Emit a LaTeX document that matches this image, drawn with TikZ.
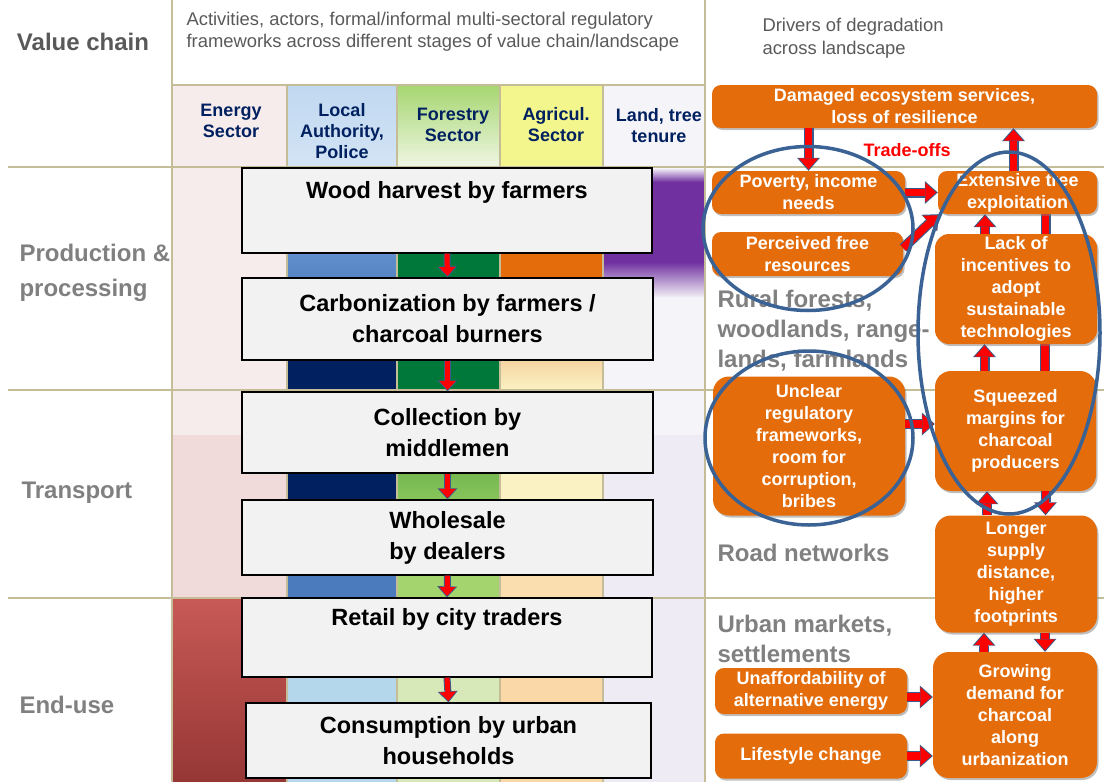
\documentclass[tikz,border=0pt]{standalone}
\usepackage{fontspec}
\setmainfont{Liberation Sans}
\usetikzlibrary{arrows.meta,shadows,backgrounds}

\definecolor{rulecol}{RGB}{196,189,151}
\definecolor{navytext}{RGB}{0,32,96}
\definecolor{greytext}{RGB}{128,128,128}
\definecolor{darkgreytext}{RGB}{89,89,89}
\definecolor{burnt}{RGB}{228,108,10}
\definecolor{rimblue}{RGB}{59,98,148}
\definecolor{tipblue}{RGB}{56,93,138}
\definecolor{boxgrey}{RGB}{242,242,242}
\definecolor{energypale}{RGB}{247,236,236}
\definecolor{energypink}{RGB}{241,218,218}
\definecolor{energytop}{RGB}{200,90,86}
\definecolor{energybot}{RGB}{150,55,53}
\definecolor{policehead}{RGB}{192,216,240}
\definecolor{policepale}{RGB}{181,215,235}
\definecolor{policemid}{RGB}{79,129,199}
\definecolor{policenavy}{RGB}{0,32,96}
\definecolor{foresthead}{RGB}{166,214,112}
\definecolor{forestdark}{RGB}{0,120,58}
\definecolor{forestmid}{RGB}{86,166,60}
\definecolor{forestlight}{RGB}{163,212,109}
\definecolor{forestpale}{RGB}{215,233,185}
\definecolor{agriyellow}{RGB}{243,246,140}
\definecolor{agricream}{RGB}{251,242,195}
\definecolor{agripeach}{RGB}{250,222,176}
\definecolor{agritan}{RGB}{250,216,168}
\definecolor{tenurepale}{RGB}{245,244,249}
\definecolor{tenurelilac}{RGB}{238,235,244}
\definecolor{tenurepurple}{RGB}{112,48,160}

\newcommand\chainfont{\bfseries\fontsize{23.5}{31}\selectfont}
\newcommand\driverfont{\bfseries\fontsize{18}{22}\selectfont}
\newcommand\stagefont{\bfseries\fontsize{24}{35}\selectfont}
\newcommand\landfont{\bfseries\fontsize{24}{30}\selectfont}
\newcommand\sectorfont{\bfseries\fontsize{18}{21}\selectfont}
\newcommand\notefont{\fontsize{18.4}{22.5}\selectfont}

\tikzset{
  chainbox/.style={draw=black, line width=1.3pt, fill=boxgrey, align=center,
    inner sep=0pt, font=\chainfont},
  driverbox/.style={fill=burnt, rounded corners=9pt, align=center, inner sep=0pt,
    text=white, font=\driverfont,
    drop shadow={fill=black!50, opacity=0.5, shadow xshift=1.5pt, shadow yshift=-2pt}},
  chainarrow/.style={draw=tipblue, line width=7pt,
    -{Triangle[length=11pt,width=20pt,line width=0pt]},
    postaction={draw=red, line width=5pt, shorten >=1.4pt,
      -{Triangle[length=9pt,width=16.5pt,line width=0pt]}}},
  flowarrow/.style={draw=tipblue, line width=10pt,
    -{Triangle[length=13pt,width=23pt,line width=0pt]},
    postaction={draw=red, line width=7.6pt, shorten >=1.5pt,
      -{Triangle[length=11pt,width=19.5pt,line width=0pt]}}},
  rim/.style={draw=rimblue, line width=3.5pt},
  stagelabel/.style={anchor=west, align=left, text=greytext, font=\stagefont},
  landlabel/.style={anchor=west, align=left, text=greytext, font=\landfont},
  sectorhead/.style={align=center, text=navytext, font=\sectorfont},
}

\begin{document}
\begin{tikzpicture}[x=1pt, y=-1pt]
  \useasboundingbox (0,0) rectangle (1104,782);

  % sector columns
  \fill[energypale] (172,85) rectangle (287,435);
  \fill[energypink] (172,435) rectangle (287,598);
  \shade[top color=energytop, bottom color=energybot] (172,598) rectangle (287,782);
  \shade[top color=policehead, bottom color=policehead!70] (287,85) rectangle (397,167);
  \fill[policehead!80] (287,167) rectangle (397,253);
  \shade[top color=policemid!90!white, bottom color=policemid!90!black] (287,253) rectangle (397,321);
  \fill[policenavy] (287,321) rectangle (397,500);
  \fill[policemid!95!black] (287,500) rectangle (397,598);
  \fill[policepale] (287,598) rectangle (397,782);
  \shade[top color=foresthead, bottom color=forestpale!40] (397,85) rectangle (500,167);
  \fill[forestpale!40] (397,167) rectangle (500,253);
  \fill[forestdark] (397,253) rectangle (500,430);
  \shade[top color=forestmid, bottom color=forestlight] (397,430) rectangle (500,537);
  \fill[forestlight] (397,537) rectangle (500,598);
  \fill[forestpale] (397,598) rectangle (500,782);
  \fill[agriyellow] (500,85) rectangle (603,253);
  \fill[burnt] (500,253) rectangle (603,321);
  \shade[top color=burnt!55, bottom color=agricream] (500,321) rectangle (603,390);
  \fill[agricream] (500,390) rectangle (603,537);
  \fill[agripeach] (500,537) rectangle (603,598);
  \fill[agritan] (500,598) rectangle (603,782);
  \fill[tenurepale] (603,85) rectangle (705,435);
  \fill[tenurelilac] (603,435) rectangle (705,782);
  \shade[top color=tenurepale, bottom color=tenurepurple] (603,168) rectangle (705,182);
  \fill[tenurepurple] (603,182) rectangle (705,262);
  \shade[top color=tenurepurple, bottom color=tenurepale] (603,262) rectangle (705,298);

  % rules
  \draw[rulecol, line width=1.5pt] (172,0) -- (172,782) (705,0) -- (705,782)
    (172,85) -- (705,85) (8,167) -- (1104,167) (8,390) -- (1104,390)
    (8,598) -- (1104,598);
  \foreach \xr in {287,397,500,603}
    \draw[rulecol, line width=1.5pt] (\xr,85) -- (\xr,782);

  % headings
  \node[font=\bfseries\fontsize{24}{28}\selectfont, text=darkgreytext] (valuechain) at (83,42) {Value chain};
  \node[anchor=west, align=left, text=darkgreytext, font=\notefont] (actors) at (183,31.5)
    {Activities, actors, formal/informal multi-sectoral regulatory\\frameworks across different stages of value chain/landscape};
  \node[anchor=west, align=left, text=darkgreytext, font=\notefont] (drivers) at (759,38)
    {Drivers of degradation\\across landscape};
  \node[sectorhead] (energy) at (231,121) {Energy\\Sector};
  \node[sectorhead] (police) at (342,131) {Local\\Authority,\\Police};
  \node[sectorhead] (forestry) at (453,125) {Forestry\\Sector};
  \node[sectorhead] (agri) at (556,125) {Agricul.\\Sector};
  \node[sectorhead] (tenure) at (659,126) {Land, tree\\tenure};
  \node[stagelabel] (production) at (16,272.5) {Production \&\\processing};
  \node[stagelabel] (transport) at (18,493) {Transport};
  \node[stagelabel] (enduse) at (16,705) {End-use};
  \node[landlabel] (rural) at (714,331) {Rural forests,\\woodlands, range-\\lands, farmlands};
  \node[landlabel] (roads) at (714,553) {Road networks};
  \node[landlabel] (urban) at (714,638.5) {Urban markets,\\settlements};
  \node[text=red, font=\driverfont] (tradeoffs) at (907,150) {Trade-offs};

  % value chain steps
  \node[chainbox, minimum width=410pt, minimum height=85pt] (harvest) at (447,210.5) {Wood harvest by farmers\\\strut};
  \node[chainbox, minimum width=411pt, minimum height=82pt] (carbonize) at (447.5,319) {Carbonization by farmers /\\charcoal burners};
  \node[chainbox, minimum width=411pt, minimum height=81pt] (collect) at (447.5,432.5) {Collection by\\middlemen};
  \node[chainbox, minimum width=411pt, minimum height=75pt] (wholesale) at (447.5,537.5) {Wholesale\\by dealers};
  \node[chainbox, minimum width=410pt, minimum height=79pt] (retail) at (447,637.5) {Retail by city traders\\\strut};
  \node[chainbox, minimum width=405pt, minimum height=75pt] (consume) at (448.5,740.5) {Consumption by urban\\households};
  \draw[chainarrow] (harvest.south) -- (carbonize.north);
  \draw[chainarrow] (carbonize.south) -- (collect.north);
  \draw[chainarrow] (collect.south) -- (wholesale.north);
  \draw[chainarrow] (wholesale.south) -- (retail.north);
  \draw[chainarrow] (retail.south) -- (consume.north);

  % drivers
  \node[driverbox, minimum width=385pt, minimum height=43pt] (damage) at (904.5,106.5) {Damaged ecosystem services,\\loss of resilience};
  \node[driverbox, minimum width=193pt, minimum height=43pt] (poverty) at (808.5,192.5) {Poverty, income\\needs};
  \node[driverbox, minimum width=159pt, minimum height=43pt] (exploit) at (1017.5,192.5) {Extensive tree\\exploitation};
  \node[driverbox, minimum width=191pt, minimum height=44pt] (freeres) at (807.5,254) {Perceived free\\resources};
  \node[driverbox, minimum width=162pt, minimum height=110pt, rounded corners=14pt] (noincent) at (1016,289)
    {Lack of\\incentives to\\adopt\\sustainable\\technologies};
  \node[driverbox, minimum width=192pt, minimum height=139pt, rounded corners=16pt] (unclear) at (809,446)
    {Unclear\\regulatory\\frameworks,\\room for\\corruption,\\bribes};
  \node[driverbox, minimum width=161pt, minimum height=120pt, rounded corners=16pt] (margins) at (1015.5,431)
    {Squeezed\\margins for\\charcoal\\producers};
  \node[driverbox, minimum width=162pt, minimum height=117pt, rounded corners=16pt] (distance) at (1016,574)
    {Longer\\supply\\distance,\\higher\\footprints};
  \node[driverbox, minimum width=192pt, minimum height=46pt] (unafford) at (811,691) {Unaffordability of\\alternative energy};
  \node[driverbox, minimum width=192pt, minimum height=45pt] (lifestyle) at (811,756) {Lifestyle change};
  \node[driverbox, minimum width=164pt, minimum height=126pt, rounded corners=16pt] (demand) at (1015,715)
    {Growing\\demand for\\charcoal\\along\\urbanization};

  \draw[flowarrow] (poverty.north |- damage.south) -- (poverty.north);
  \draw[flowarrow] ([xshift=-4pt]exploit.north) -- ([xshift=-4pt]exploit.north |- damage.south);
  \draw[flowarrow] (poverty.east) -- (exploit.west);
  \draw[flowarrow] ([yshift=6pt]freeres.east) -- ([xshift=1pt]exploit.south west);
  \draw[flowarrow] ([xshift=-31pt]noincent.north) -- ([xshift=-31pt]noincent.north |- exploit.south);
  \draw[flowarrow] ([xshift=-31pt]margins.north) -- ([xshift=-31pt]margins.north |- noincent.south);
  \draw[flowarrow] ([yshift=22pt]unclear.east) -- ([yshift=22pt]unclear.east -| margins.west);
  \draw[flowarrow] ([xshift=-29pt]distance.north) -- ([xshift=-29pt]distance.north |- margins.south);
  \draw[flowarrow] ([xshift=30pt]margins.south) -- ([xshift=30pt]margins.south |- distance.north);
  \draw[flowarrow] ([xshift=-31pt]demand.north) -- ([xshift=-31pt]demand.north |- distance.south);
  \draw[flowarrow] ([xshift=29pt]distance.south) -- ([xshift=29pt]distance.south |- demand.north);
  \draw[flowarrow] ([yshift=-6pt]unafford.east) -- ([yshift=-6pt]unafford.east -| demand.west);
  \draw[flowarrow] (lifestyle.east) -- (lifestyle.east -| demand.west);
  \begin{scope}[on background layer]
    \draw[flowarrow] ([xshift=28pt]exploit.south) -- ([xshift=28pt]exploit.south |- noincent.center);
    \draw[flowarrow] ([xshift=29pt]noincent.south) -- ([xshift=29pt]noincent.south |- margins.center);
  \end{scope}

  % trade-off loops
  \draw[rim] (808,228.5) ellipse [x radius=105pt, y radius=82pt];
  \draw[rim] (1009,333) ellipse [x radius=91pt, y radius=181pt];
  \draw[rim] (809,438) ellipse [x radius=104pt, y radius=87pt];
\end{tikzpicture}
\end{document}
